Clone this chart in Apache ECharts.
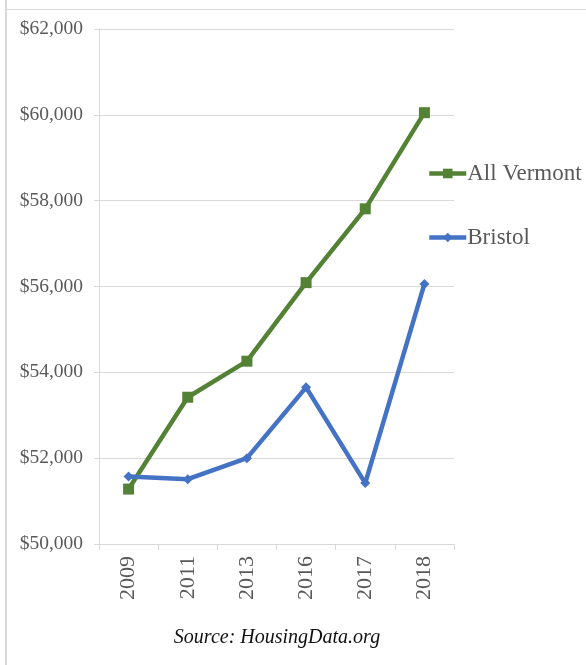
<!DOCTYPE html>
<html>
<head>
<meta charset="utf-8">
<script src="https://cdn.jsdelivr.net/npm/echarts@6/dist/echarts.min.js"></script>
<style>
html,body{margin:0;padding:0;background:#fff;}
#chart{width:586px;height:665px;}
</style>
</head>
<body>
<div id="chart"></div>
<script>
var years = ['2009', '2011', '2013', '2016', '2017', '2018'];
var allVermont = [51280, 53420, 54260, 56090, 57810, 60050];
var bristol = [51570, 51510, 52000, 53650, 51420, 56060];
var yMin = 50000, yMax = 62000, yStep = 2000;
var sourceText = 'Source: HousingData.org';

var chart = echarts.init(document.getElementById('chart'), null, {renderer: 'canvas'});
var serif = '"Liberation Serif", "Times New Roman", serif';
chart.setOption({
  backgroundColor: '#ffffff',
  animation: false,
  grid: {left: 99, right: 132, top: 29, bottom: 121, containLabel: false},
  xAxis: {
    type: 'category',
    data: years,
    boundaryGap: true,
    axisLine: {lineStyle: {color: '#d9d9d9', width: 1}},
    axisTick: {show: true, length: 6, lineStyle: {color: '#d9d9d9'}},
    axisLabel: {rotate: 90, margin: 12, color: '#595959', fontFamily: serif, fontSize: 22},
    splitLine: {show: false}
  },
  yAxis: {
    type: 'value',
    min: yMin, max: yMax, interval: yStep,
    axisLine: {show: true, lineStyle: {color: '#d9d9d9', width: 1}},
    axisTick: {show: true, length: 5, lineStyle: {color: '#d9d9d9'}},
    axisLabel: {
      margin: 16, color: '#595959', fontFamily: serif, fontSize: 19.5,
      formatter: function (v) { return '$' + v.toLocaleString('en-US'); }
    },
    splitLine: {show: true, lineStyle: {color: '#d9d9d9', width: 1}}
  },
  legend: {
    orient: 'vertical',
    left: 422, top: 156,
    itemWidth: 37, itemHeight: 12, itemGap: 39,
    lineStyle: {width: 4.5},
    textStyle: {color: '#595959', fontFamily: serif, fontSize: 23, lineHeight: 25, padding: [0, 0, 0, -4]},
    data: ['All Vermont', 'Bristol']
  },
  graphic: [
    {type: 'line', shape: {x1: 6, y1: 0, x2: 6, y2: 665}, style: {stroke: '#d9d9d9', lineWidth: 2}, silent: true},
    {type: 'line', shape: {x1: 7, y1: 9.5, x2: 586, y2: 9.5}, style: {stroke: '#d9d9d9', lineWidth: 1}, silent: true},
    {type: 'text', x: 277, y: 638, style: {text: sourceText, fill: '#111', font: 'italic 20px ' + serif, textAlign: 'center', textVerticalAlign: 'middle'}, silent: true}
  ],
  series: [
    {
      name: 'All Vermont', type: 'line', data: allVermont,
      symbol: 'rect', symbolSize: 11, showAllSymbol: true,
      lineStyle: {color: '#548235', width: 4.5},
      itemStyle: {color: '#548235'}
    },
    {
      name: 'Bristol', type: 'line', data: bristol,
      symbol: 'diamond', symbolSize: 10, showAllSymbol: true,
      lineStyle: {color: '#4472c4', width: 4.5},
      itemStyle: {color: '#4472c4'}
    }
  ]
});
</script>
</body>
</html>
